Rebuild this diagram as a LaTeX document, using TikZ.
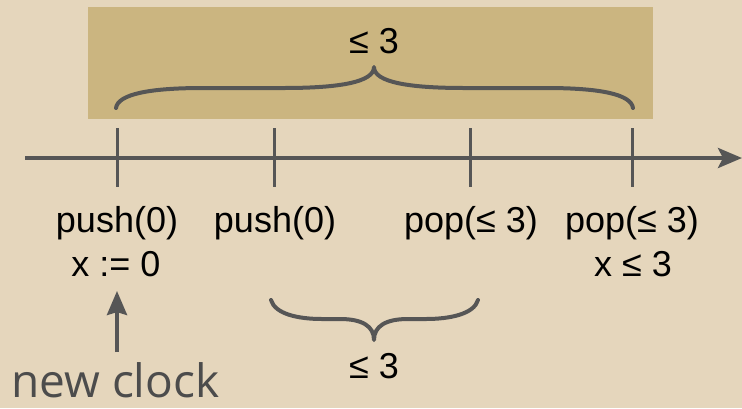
\documentclass[tikz,border=0pt]{standalone}
\usepackage{fontspec}
\setmainfont{Liberation Sans}
\newfontfamily\clockfont{Open Sans}
\usetikzlibrary{arrows.meta}
\definecolor{paper}{HTML}{E5D6BC}
\definecolor{band}{HTML}{CBB580}
\definecolor{ink}{HTML}{565656}
\definecolor{note}{HTML}{4C4C4C}
\begin{document}
\begin{tikzpicture}[x=1pt,y=-1pt,
  lbl/.style={anchor=base,inner sep=0pt,font=\fontsize{36}{40}\selectfont},
  tickmark/.style={draw=ink,line width=3pt},
  axis/.style={draw=ink,line width=4pt,-{Stealth[length=24pt,width=20pt,inset=5pt]}},
  bracecurve/.style={draw=ink,line width=4pt,line cap=round,line join=round}]
  % canvas and shaded band
  \useasboundingbox[fill=paper] (0,0) rectangle (742,408);
  \fill[band] (88,7) rectangle (653,119);

  % time axis
  \coordinate (start) at (25,158);
  \coordinate (end) at (742,158);
  \draw[axis] (start) -- (end);

  % ticks
  \foreach \n/\x in {t1/117,t2/274,t3/470,t4/632}{
    \coordinate (\n) at (\x,158);
    \draw[tickmark] (\x,128) -- (\x,187);
  }

  % event labels
  \node[lbl] (p1) at (117,232) {push(0)};
  \node[lbl] (p2) at (275,232) {push(0)};
  \node[lbl] (q1) at (471,232) {pop(≤ 3)};
  \node[lbl] (q2) at (632,232) {pop(≤ 3)};
  \node[lbl] (xzero) at (116,276) {x := 0};
  \node[lbl] (xle) at (633,276) {x ≤ 3};

  % upper brace over the whole span
  \draw[bracecurve] (116,108) .. controls (118,94) and (150,88) .. (203,88)
    -- (284,88) .. controls (340,88) and (374,82) .. (374,67)
    .. controls (374,82) and (408,88) .. (464,88)
    -- (546,88) .. controls (599,88) and (631,94) .. (633,108);
  \node[lbl] (topbound) at (374,53) {≤ 3};

  % lower brace between the inner push and pop
  \draw[bracecurve] (271,300) .. controls (275,314) and (298,319) .. (322,319)
    -- (340,319) .. controls (362,319) and (374,326) .. (374,340)
    .. controls (374,326) and (386,319) .. (408,319)
    -- (426,319) .. controls (450,319) and (474,314) .. (478,300);
  \node[lbl] (lowbound) at (374,378) {≤ 3};

  % annotation (no descenders, so the box stops at the baseline)
  \node[anchor=base west,inner sep=0pt,text=note,text depth=0pt,
        font=\clockfont\fontsize{46}{50}\selectfont] (clock) at (11,397) {new clock};
  \coordinate (foot) at (117,352);
  \coordinate (head) at (117,291);
  \draw[draw=ink,line width=4pt,-{Stealth[length=24pt,width=20pt,inset=3pt]}] (foot) -- (head);
\end{tikzpicture}
\end{document}
